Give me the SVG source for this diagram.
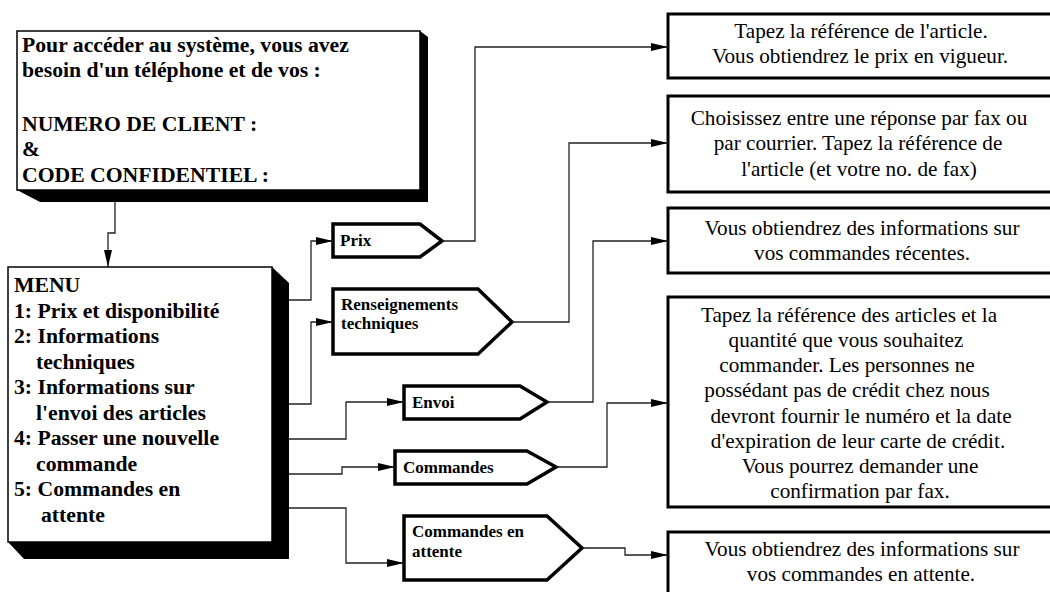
<svg xmlns="http://www.w3.org/2000/svg" width="1050" height="592" viewBox="0 0 1050 592">
<style>
.bold{font-family:"Liberation Serif","Times New Roman",serif;font-weight:bold;font-size:21.7px;fill:#000}
.lbl{font-family:"Liberation Serif","Times New Roman",serif;font-weight:bold;font-size:17px;fill:#000}
.txt{font-family:"Liberation Serif","Times New Roman",serif;font-size:21.2px;fill:#000;text-anchor:middle}
.box{fill:#fff;stroke:#000;stroke-width:1.5}
.pent{fill:#fff;stroke:#000;stroke-width:3.5;stroke-linejoin:miter}
.rbox{fill:#fff;stroke:#000;stroke-width:3}
.con{fill:none;stroke:#222;stroke-width:1.3}
</style>
<defs>
<marker id="arr" markerUnits="userSpaceOnUse" markerWidth="18" markerHeight="9" refX="17" refY="4" orient="auto">
<path d="M0,0 L17,4 L0,8 Z" fill="#000"/>
</marker>
</defs>
<rect width="1050" height="592" fill="#fff"/>

<g id="access">
<polygon points="17,190 420,190 420,31 428,37 428,202 40,202" fill="#000"/>
<rect class="box" x="17" y="31" width="403" height="159"/>
<text class="bold" x="22" y="52">Pour accéder au système, vous avez</text>
<text class="bold" x="22" y="77">besoin d'un téléphone et de vos :</text>
<text class="bold" x="22" y="131">NUMERO DE CLIENT :</text>
<text class="bold" x="22" y="156">&amp;</text>
<text class="bold" x="22" y="182">CODE CONFIDENTIEL :</text>
</g>

<g id="menu">
<polygon points="272,267 289,283 289,559 24,559 8,542 272,542" fill="#000"/>
<rect class="box" x="8" y="267" width="264" height="275"/>
<text class="bold" x="14" y="292">MENU</text>
<text class="bold" x="14" y="317.5">1: Prix et disponibilité</text>
<text class="bold" x="14" y="343">2: Informations</text>
<text class="bold" x="36" y="368.5">techniques</text>
<text class="bold" x="14" y="394">3: Informations sur</text>
<text class="bold" x="36" y="419.5">l'envoi des articles</text>
<text class="bold" x="14" y="445">4: Passer une nouvelle</text>
<text class="bold" x="36" y="470.5">commande</text>
<text class="bold" x="14" y="496">5: Commandes en</text>
<text class="bold" x="41" y="521.5">attente</text>
</g>

<g id="prix">
<polygon class="pent" points="333,224 420,224 442,241 420,257 333,257"/>
<text class="lbl" x="340" y="246">Prix</text>
</g>
<g id="renseignements">
<polygon class="pent" points="333,289 478,289 512,322 478,354 333,354"/>
<text class="lbl" x="341" y="310">Renseignements</text>
<text class="lbl" x="341" y="329">techniques</text>
</g>
<g id="envoi">
<polygon class="pent" points="404,386 520,386 547,402 520,419 404,419"/>
<text class="lbl" x="412" y="408">Envoi</text>
</g>
<g id="commandes">
<polygon class="pent" points="395,451 527,451 556,467 527,484 395,484"/>
<text class="lbl" x="403" y="473">Commandes</text>
</g>
<g id="attente">
<polygon class="pent" points="404,516 547,516 582,548 547,580 404,580"/>
<text class="lbl" x="412" y="537">Commandes en</text>
<text class="lbl" x="412" y="557">attente</text>
</g>

<g id="r1">
<rect class="rbox" x="668" y="14" width="400" height="64"/>
<text class="txt" x="861" y="38">Tapez la référence de l'article.</text>
<text class="txt" x="860" y="63">Vous obtiendrez le prix en vigueur.</text>
</g>
<g id="r2">
<rect class="rbox" x="668" y="96" width="400" height="96"/>
<text class="txt" x="859" y="125">Choisissez entre une réponse par fax ou</text>
<text class="txt" x="858" y="150">par courrier. Tapez la référence de</text>
<text class="txt" x="859" y="176">l'article (et votre no. de fax)</text>
</g>
<g id="r3">
<rect class="rbox" x="668" y="208" width="400" height="65"/>
<text class="txt" x="862" y="235">Vous obtiendrez des informations sur</text>
<text class="txt" x="862" y="260">vos commandes récentes.</text>
</g>
<g id="r4">
<rect class="rbox" x="668" y="297" width="400" height="210"/>
<text class="txt" x="849" y="322">Tapez la référence des articles et la</text>
<text class="txt" x="846" y="347">quantité que vous souhaitez</text>
<text class="txt" x="847" y="372">commander. Les personnes ne</text>
<text class="txt" x="847" y="397">possédant pas de crédit chez nous</text>
<text class="txt" x="861" y="423">devront fournir le numéro et la date</text>
<text class="txt" x="858" y="448">d'expiration de leur carte de crédit.</text>
<text class="txt" x="860" y="473">Vous pourrez demander une</text>
<text class="txt" x="860" y="498">confirmation par fax.</text>
</g>
<g id="r5">
<rect class="rbox" x="668" y="532" width="400" height="80"/>
<text class="txt" x="862" y="556">Vous obtiendrez des informations sur</text>
<text class="txt" x="861" y="581">vos commandes en attente.</text>
</g>

<g id="connectors">
<polyline class="con" points="115,202 115,233 108,233 108,267" marker-end="url(#arr)"/>
<polyline class="con" points="289,300 311,300 311,241 333,241" marker-end="url(#arr)"/>
<polyline class="con" points="289,404 311,404 311,322 333,322" marker-end="url(#arr)"/>
<polyline class="con" points="289,439 346,439 346,402 404,402" marker-end="url(#arr)"/>
<polyline class="con" points="289,474 342,474 342,467 395,467" marker-end="url(#arr)"/>
<polyline class="con" points="289,508 346,508 346,563 404,563" marker-end="url(#arr)"/>
<polyline class="con" points="442,241 475,241 475,47 668,47" marker-end="url(#arr)"/>
<polyline class="con" points="512,322 569,322 569,143 668,143" marker-end="url(#arr)"/>
<polyline class="con" points="547,402 593,402 593,241 668,241" marker-end="url(#arr)"/>
<polyline class="con" points="556,467 607,467 607,403 668,403" marker-end="url(#arr)"/>
<polyline class="con" points="582,548 625,548 625,555 668,555" marker-end="url(#arr)"/>
</g>
</svg>
